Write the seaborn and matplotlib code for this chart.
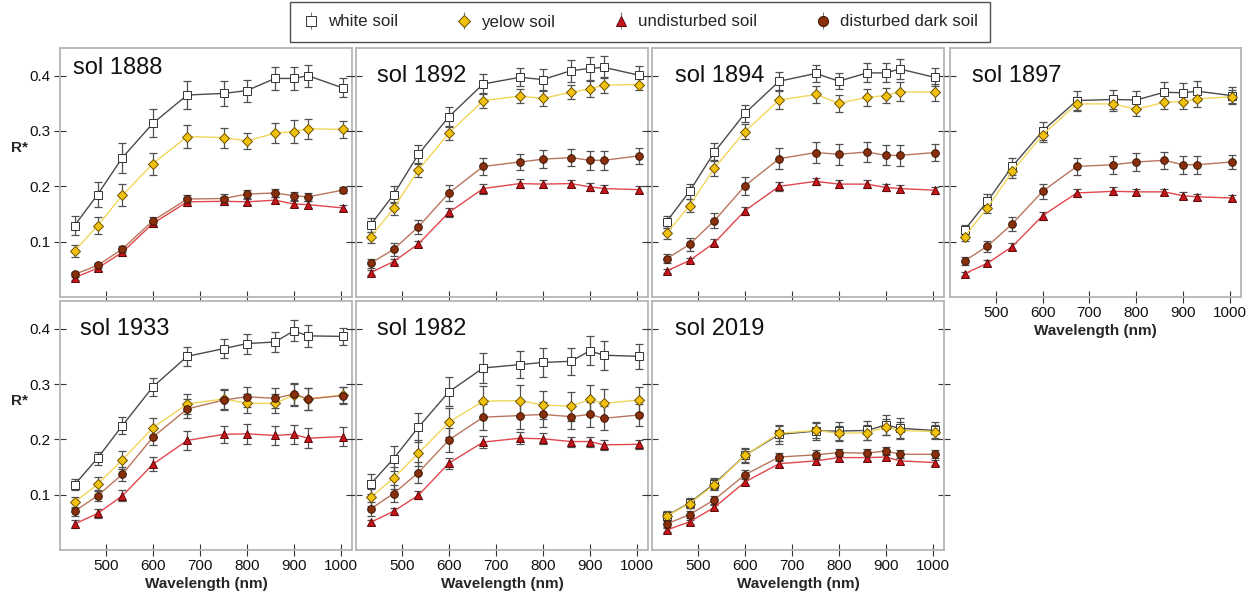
import matplotlib
matplotlib.use("Agg")
import matplotlib.pyplot as plt
import seaborn as sns
import numpy as np

# ---------------- data ----------------
wavelength = [433, 482, 535, 600, 673, 751, 800, 860, 900, 930, 1004]
series_names = ["white soil", "yelow soil", "undisturbed soil", "disturbed dark soil"]
sols = ["sol 1888", "sol 1892", "sol 1894", "sol 1897", "sol 1933", "sol 1982", "sol 2019"]

# sol 1888
s1888_white = [0.129, 0.185, 0.252, 0.314, 0.365, 0.368, 0.373, 0.395, 0.395, 0.400, 0.378]
s1888_white_err = [0.017, 0.023, 0.027, 0.025, 0.026, 0.023, 0.020, 0.020, 0.020, 0.020, 0.017]
s1888_yellow = [0.083, 0.129, 0.184, 0.241, 0.290, 0.288, 0.282, 0.296, 0.299, 0.304, 0.303]
s1888_yellow_err = [0.011, 0.015, 0.020, 0.020, 0.021, 0.018, 0.015, 0.018, 0.020, 0.018, 0.015]
s1888_undist = [0.035, 0.052, 0.081, 0.133, 0.172, 0.173, 0.172, 0.175, 0.168, 0.167, 0.161]
s1888_undist_err = [0.004, 0.005, 0.006, 0.007, 0.007, 0.007, 0.006, 0.006, 0.006, 0.006, 0.006]
s1888_dist = [0.041, 0.057, 0.087, 0.138, 0.177, 0.178, 0.186, 0.188, 0.183, 0.181, 0.193]
s1888_dist_err = [0.004, 0.005, 0.006, 0.007, 0.008, 0.008, 0.007, 0.007, 0.007, 0.007, 0.005]

# sol 1892
s1892_white = [0.130, 0.185, 0.258, 0.326, 0.385, 0.397, 0.393, 0.409, 0.413, 0.415, 0.401]
s1892_white_err = [0.012, 0.015, 0.017, 0.018, 0.018, 0.016, 0.019, 0.020, 0.020, 0.020, 0.016]
s1892_yellow = [0.108, 0.160, 0.230, 0.296, 0.355, 0.363, 0.359, 0.370, 0.376, 0.383, 0.384]
s1892_yellow_err = [0.010, 0.011, 0.013, 0.013, 0.014, 0.013, 0.014, 0.013, 0.014, 0.014, 0.010]
s1892_undist = [0.044, 0.064, 0.096, 0.153, 0.196, 0.205, 0.204, 0.205, 0.199, 0.196, 0.194]
s1892_undist_err = [0.004, 0.005, 0.006, 0.008, 0.009, 0.008, 0.007, 0.007, 0.007, 0.006, 0.006]
s1892_dist = [0.061, 0.086, 0.127, 0.188, 0.236, 0.244, 0.249, 0.252, 0.247, 0.247, 0.255]
s1892_dist_err = [0.008, 0.011, 0.013, 0.014, 0.016, 0.015, 0.016, 0.016, 0.017, 0.017, 0.014]

# sol 1894
s1894_white = [0.136, 0.191, 0.262, 0.332, 0.390, 0.404, 0.390, 0.405, 0.405, 0.412, 0.397]
s1894_white_err = [0.011, 0.014, 0.016, 0.015, 0.016, 0.015, 0.014, 0.017, 0.017, 0.018, 0.016]
s1894_yellow = [0.115, 0.165, 0.233, 0.299, 0.356, 0.366, 0.350, 0.361, 0.364, 0.371, 0.370]
s1894_yellow_err = [0.010, 0.012, 0.014, 0.014, 0.016, 0.015, 0.015, 0.015, 0.014, 0.017, 0.015]
s1894_undist = [0.047, 0.066, 0.098, 0.156, 0.200, 0.209, 0.204, 0.204, 0.198, 0.196, 0.193]
s1894_undist_err = [0.004, 0.005, 0.006, 0.007, 0.008, 0.006, 0.007, 0.007, 0.007, 0.007, 0.006]
s1894_dist = [0.069, 0.095, 0.138, 0.201, 0.250, 0.261, 0.258, 0.262, 0.256, 0.256, 0.261]
s1894_dist_err = [0.008, 0.011, 0.014, 0.016, 0.019, 0.019, 0.019, 0.018, 0.018, 0.019, 0.015]

# sol 1897
s1897_white = [0.121, 0.173, 0.236, 0.300, 0.355, 0.357, 0.356, 0.370, 0.369, 0.372, 0.364]
s1897_white_err = [0.010, 0.014, 0.016, 0.017, 0.017, 0.017, 0.016, 0.018, 0.018, 0.018, 0.015]
s1897_yellow = [0.109, 0.161, 0.227, 0.293, 0.349, 0.349, 0.339, 0.352, 0.353, 0.358, 0.362]
s1897_yellow_err = [0.008, 0.010, 0.012, 0.012, 0.013, 0.013, 0.012, 0.013, 0.013, 0.014, 0.012]
s1897_undist = [0.042, 0.061, 0.091, 0.147, 0.188, 0.191, 0.190, 0.190, 0.183, 0.181, 0.179]
s1897_undist_err = [0.004, 0.005, 0.006, 0.007, 0.007, 0.007, 0.006, 0.006, 0.006, 0.006, 0.005]
s1897_dist = [0.065, 0.092, 0.132, 0.191, 0.236, 0.239, 0.244, 0.247, 0.239, 0.239, 0.244]
s1897_dist_err = [0.007, 0.010, 0.012, 0.014, 0.016, 0.016, 0.016, 0.015, 0.016, 0.016, 0.013]

# sol 1933
s1933_white = [0.118, 0.166, 0.225, 0.295, 0.350, 0.364, 0.373, 0.376, 0.396, 0.387, 0.386]
s1933_white_err = [0.010, 0.012, 0.015, 0.016, 0.017, 0.017, 0.018, 0.018, 0.019, 0.020, 0.016]
s1933_yellow = [0.086, 0.119, 0.163, 0.221, 0.264, 0.273, 0.265, 0.265, 0.280, 0.273, 0.280]
s1933_yellow_err = [0.010, 0.013, 0.016, 0.017, 0.018, 0.018, 0.017, 0.017, 0.020, 0.020, 0.015]
s1933_undist = [0.047, 0.066, 0.098, 0.155, 0.198, 0.209, 0.210, 0.207, 0.209, 0.202, 0.205]
s1933_undist_err = [0.007, 0.008, 0.010, 0.013, 0.017, 0.015, 0.018, 0.018, 0.017, 0.018, 0.017]
s1933_dist = [0.070, 0.098, 0.137, 0.204, 0.255, 0.271, 0.277, 0.274, 0.282, 0.273, 0.279]
s1933_dist_err = [0.008, 0.010, 0.013, 0.015, 0.017, 0.018, 0.018, 0.018, 0.020, 0.020, 0.015]

# sol 1982
s1982_white = [0.119, 0.165, 0.222, 0.286, 0.329, 0.335, 0.339, 0.341, 0.360, 0.352, 0.350]
s1982_white_err = [0.018, 0.023, 0.026, 0.026, 0.027, 0.025, 0.026, 0.024, 0.026, 0.026, 0.022]
s1982_yellow = [0.095, 0.130, 0.175, 0.231, 0.269, 0.270, 0.262, 0.260, 0.272, 0.265, 0.271]
s1982_yellow_err = [0.015, 0.020, 0.024, 0.026, 0.028, 0.028, 0.026, 0.026, 0.027, 0.026, 0.024]
s1982_undist = [0.050, 0.070, 0.099, 0.157, 0.195, 0.202, 0.201, 0.196, 0.196, 0.190, 0.191]
s1982_undist_err = [0.005, 0.006, 0.007, 0.010, 0.011, 0.011, 0.010, 0.009, 0.009, 0.009, 0.008]
s1982_dist = [0.074, 0.102, 0.140, 0.199, 0.240, 0.243, 0.245, 0.241, 0.245, 0.238, 0.244]
s1982_dist_err = [0.012, 0.016, 0.019, 0.021, 0.024, 0.024, 0.022, 0.022, 0.023, 0.022, 0.020]

# sol 2019
s2019_white = [0.062, 0.085, 0.120, 0.171, 0.209, 0.215, 0.215, 0.216, 0.226, 0.220, 0.216]
s2019_white_err = [0.008, 0.009, 0.010, 0.013, 0.017, 0.016, 0.017, 0.017, 0.018, 0.018, 0.015]
s2019_yellow = [0.061, 0.084, 0.118, 0.171, 0.211, 0.216, 0.211, 0.212, 0.222, 0.216, 0.214]
s2019_yellow_err = [0.007, 0.008, 0.010, 0.012, 0.014, 0.014, 0.014, 0.014, 0.015, 0.015, 0.012]
s2019_undist = [0.036, 0.051, 0.077, 0.123, 0.156, 0.161, 0.167, 0.167, 0.168, 0.161, 0.158]
s2019_undist_err = [0.004, 0.004, 0.005, 0.006, 0.006, 0.006, 0.006, 0.006, 0.006, 0.005, 0.005]
s2019_dist = [0.047, 0.064, 0.091, 0.136, 0.168, 0.172, 0.176, 0.175, 0.179, 0.173, 0.173]
s2019_dist_err = [0.005, 0.006, 0.007, 0.008, 0.008, 0.008, 0.007, 0.007, 0.007, 0.007, 0.007]

x_ticks = [500, 600, 700, 800, 900, 1000]
y_ticks = [0.1, 0.2, 0.3, 0.4]

panels = [
    [(s1888_white, s1888_white_err), (s1888_yellow, s1888_yellow_err), (s1888_undist, s1888_undist_err), (s1888_dist, s1888_dist_err)],
    [(s1892_white, s1892_white_err), (s1892_yellow, s1892_yellow_err), (s1892_undist, s1892_undist_err), (s1892_dist, s1892_dist_err)],
    [(s1894_white, s1894_white_err), (s1894_yellow, s1894_yellow_err), (s1894_undist, s1894_undist_err), (s1894_dist, s1894_dist_err)],
    [(s1897_white, s1897_white_err), (s1897_yellow, s1897_yellow_err), (s1897_undist, s1897_undist_err), (s1897_dist, s1897_dist_err)],
    [(s1933_white, s1933_white_err), (s1933_yellow, s1933_yellow_err), (s1933_undist, s1933_undist_err), (s1933_dist, s1933_dist_err)],
    [(s1982_white, s1982_white_err), (s1982_yellow, s1982_yellow_err), (s1982_undist, s1982_undist_err), (s1982_dist, s1982_dist_err)],
    [(s2019_white, s2019_white_err), (s2019_yellow, s2019_yellow_err), (s2019_undist, s2019_undist_err), (s2019_dist, s2019_dist_err)],
]

# ---------------- styles ----------------
styles = [
    dict(line="#4a4a4a", marker="s", mfc="white", mec="#333333", ms=5.5),
    dict(line="#f2d65a", marker="D", mfc="#f3c20f", mec="#6b5000", ms=4.8),
    dict(line="#e2474c", marker="^", mfc="#c8141b", mec="#5a0808", ms=5.5),
    dict(line="#b9765c", marker="o", mfc="#8a2f0c", mec="#3a1505", ms=5.5),
]
draw_order = [2, 3, 1, 0]

sns.set_theme(style="white")
plt.rcParams["font.family"] = ["Liberation Sans", "DejaVu Sans"]

W, H = 1255, 593
fig = plt.figure(figsize=(W / 100, H / 100), dpi=100)

col_x = [(60, 352), (356, 648), (652, 944), (950, 1241)]
row_y = [(48, 297), (301, 550)]
layout = [(0, 0), (0, 1), (0, 2), (0, 3), (1, 0), (1, 1), (1, 2)]
title_x = [0.043, 0.072, 0.079, 0.076, 0.068, 0.072, 0.079]
title_y = [0.92, 0.889, 0.889, 0.889, 0.889, 0.889, 0.889]

spine_col = "#b5b5b5"
axes = []
for i, (r, c) in enumerate(layout):
    x0, x1 = col_x[c]
    y0, y1 = row_y[r]
    ax = fig.add_axes([x0 / W, 1 - y1 / H, (x1 - x0) / W, (y1 - y0) / H])
    axes.append(ax)
    for k in draw_order:
        vals, errs = panels[i][k]
        st = styles[k]
        ax.errorbar(wavelength, vals, yerr=errs, fmt="none", ecolor="#505050",
                    elinewidth=0.9, capsize=2.6, capthick=0.9, zorder=2 + k * 0.1)
        sns.lineplot(x=wavelength, y=vals, ax=ax, color=st["line"], lw=1.0,
                     marker=st["marker"], markersize=st["ms"],
                     markerfacecolor=st["mfc"], markeredgecolor=st["mec"],
                     markeredgewidth=0.7, zorder=3 + k * 0.1, legend=False)
    ax.set_xlim(402, 1024)
    ax.set_ylim(0, 0.45)
    ax.set_xticks(x_ticks)
    ax.set_yticks(y_ticks)
    ax.set_xlabel("")
    ax.set_ylabel("")
    for sp in ax.spines.values():
        sp.set_color(spine_col)
        sp.set_linewidth(1.3)
    right_ticks = (i != 3)
    ax.tick_params(axis="both", which="both", direction="inout", length=9,
                   width=0.8, color="#333333", labelsize=11, labelcolor="#111111",
                   left=True, right=right_ticks, bottom=True, top=False, pad=2)
    show_x = (r == 1) or (i == 3)
    if not show_x:
        ax.tick_params(axis="x", labelbottom=False)
    else:
        ax.set_xticklabels([str(t) for t in x_ticks])
        ax.set_xlabel("Wavelength (nm)", fontsize=11, fontweight="bold", labelpad=3)
    if c == 0:
        ax.set_yticklabels(["0.1", "0.2", "0.3", "0.4"])
        ax.set_ylabel("R*", fontsize=11, fontweight="bold", rotation=0)
        ax.yaxis.set_label_coords(-0.137, 0.57)
    else:
        ax.tick_params(axis="y", labelleft=False)
    ax.text(title_x[i], title_y[i], sols[i], transform=ax.transAxes,
            fontsize=17, va="center", ha="left", color="#111111")

# legend proxies
dummy = fig.add_axes([0, 0, 0.001, 0.001])
handles = []
for k in range(4):
    st = styles[k]
    h = dummy.errorbar([0], [0], yerr=[1], fmt=st["marker"], linestyle="none",
                       ms=st["ms"] + 1.8, mfc=st["mfc"], mec=st["mec"], mew=0.7,
                       ecolor="#777777", elinewidth=0.8, capsize=0)
    handles.append(h)
dummy.set_visible(False)

leg = fig.legend(handles, series_names, loc="center", bbox_to_anchor=(640 / W, 1 - 22 / H),
                 ncol=4, frameon=True, fancybox=False, fontsize=12.2,
                 columnspacing=3.4, handletextpad=0.5, handlelength=1.0,
                 borderpad=0.75, edgecolor="#222222")
leg.get_frame().set_linewidth(1.0)

fig.savefig("out.png", dpi=100)
